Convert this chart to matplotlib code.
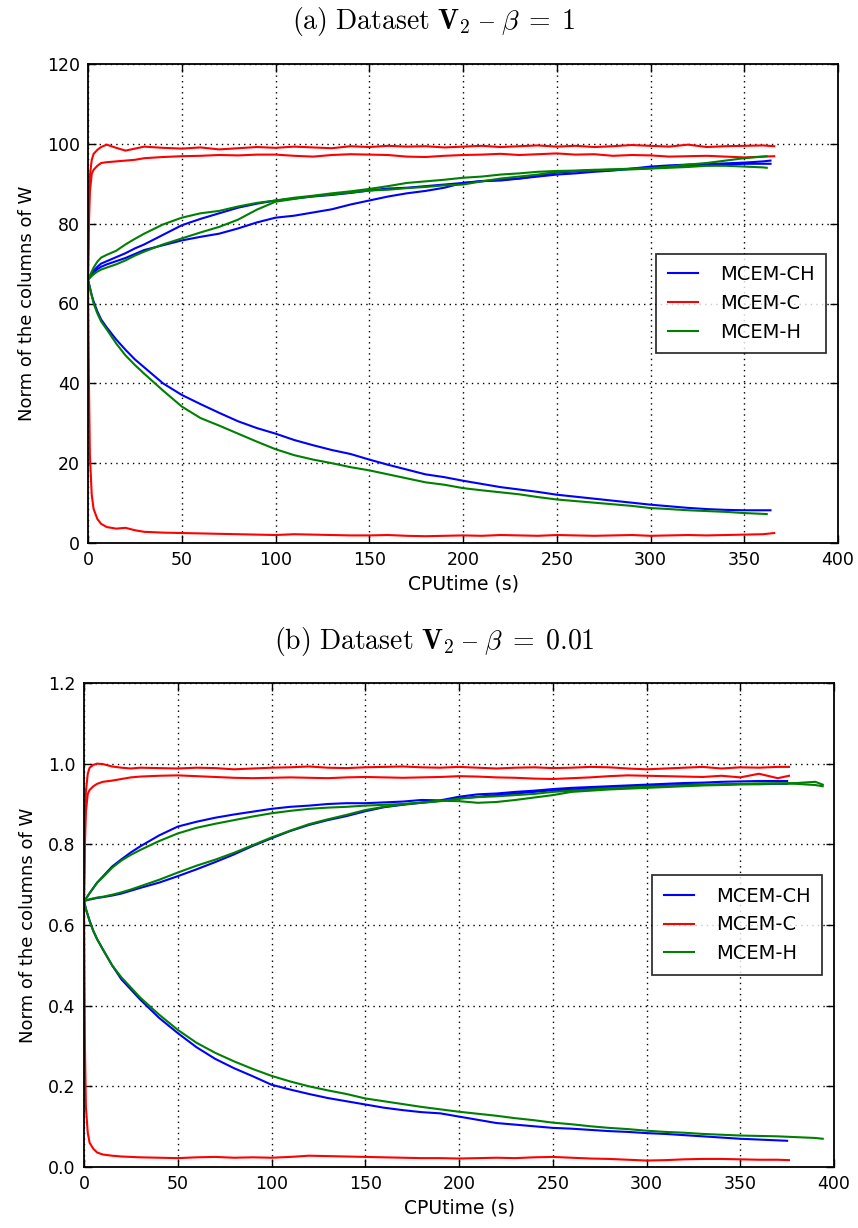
import matplotlib
matplotlib.use("Agg")
import matplotlib.pyplot as plt

plt.rcParams['mathtext.fontset'] = 'cm'
plt.rcParams['font.family'] = ['DejaVu Sans']

# ---------------- Panel (a): beta = 1 ----------------
t_grid_a = [0, 0.5, 1, 2, 3, 5, 7, 10, 15, 20, 25, 30, 40, 50, 60, 70, 80, 90, 100,
            110, 120, 130, 140, 150, 160, 170, 180, 190, 200, 210, 220, 230, 240, 250,
            260, 270, 280, 290, 300, 310, 320, 330, 340, 350, 360]
t_end_a_C = 366
t_end_a_CH = 364
t_end_a_H = 362

a_C_1 = [66, 85, 92, 96, 97.5, 98.5, 99.2, 99.8, 99.0, 98.3, 98.8, 99.3, 99.0, 98.8, 99.1,
         98.6, 98.9, 99.2, 99.0, 99.3, 99.1, 98.9, 99.4, 99.2, 99.5, 99.3, 99.4, 99.1, 99.3,
         99.5, 99.2, 99.4, 99.6, 99.3, 99.5, 99.2, 99.4, 99.7, 99.5, 99.3, 99.8, 99.2, 99.4,
         99.5, 99.6, 99.4]
a_C_2 = [66, 80, 88, 92.5, 93.5, 94.5, 95.2, 95.4, 95.6, 95.8, 96.0, 96.4, 96.7, 96.9, 97.0,
         97.2, 97.1, 97.3, 97.3, 97.0, 96.8, 97.2, 97.4, 97.3, 97.2, 96.8, 96.7, 97.0, 97.2,
         97.3, 97.5, 97.2, 97.4, 97.6, 97.3, 97.4, 97.0, 97.2, 97.1, 96.8, 96.9, 97.0, 96.8,
         96.6, 96.8, 96.9]
a_C_3 = [66, 40, 22, 12, 8.5, 6, 4.8, 4.0, 3.6, 3.8, 3.2, 2.8, 2.6, 2.5, 2.4, 2.3, 2.2, 2.1,
         2.0, 2.2, 2.1, 2.0, 1.9, 1.9, 2.0, 1.8, 1.7, 1.8, 1.9, 1.8, 2.0, 1.9, 1.8, 2.0, 1.9,
         1.8, 1.9, 2.0, 1.8, 1.9, 2.0, 1.9, 2.0, 2.1, 2.2, 2.5]

a_CH_1 = [66, 66.4, 66.8, 67.5, 68.2, 69.2, 70.0, 70.6, 71.6, 72.6, 73.8, 74.8, 77.2, 79.6,
          81.2, 82.6, 84.0, 85.0, 85.8, 86.3, 86.8, 87.2, 87.7, 88.3, 88.8, 89.0, 89.4, 89.8,
          90.2, 90.6, 91.0, 91.3, 91.8, 92.3, 92.6, 93.0, 93.3, 93.8, 94.3, 94.6, 94.8, 94.9,
          95.1, 95.3, 95.6, 95.8]
a_CH_2 = [66, 66.3, 66.6, 67.2, 67.8, 68.6, 69.2, 69.8, 70.6, 71.4, 72.4, 73.4, 74.6, 75.8,
          76.7, 77.5, 78.8, 80.3, 81.5, 82.0, 82.8, 83.6, 84.8, 85.8, 86.8, 87.6, 88.2, 89.0,
          90.2, 90.7, 90.8, 91.3, 92.0, 92.8, 93.1, 93.4, 93.5, 93.7, 94.0, 94.2, 94.5, 94.6,
          94.8, 95.0, 95.0, 95.0]
a_CH_3 = [66, 65, 64, 62, 60.5, 58, 56, 54, 51, 48.4, 46, 44, 40, 37.1, 34.8, 32.6, 30.5,
          28.8, 27.4, 25.8, 24.5, 23.3, 22.3, 20.9, 19.6, 18.4, 17.2, 16.5, 15.6, 14.8, 14.0,
          13.4, 12.8, 12.1, 11.6, 11.1, 10.6, 10.1, 9.6, 9.2, 8.8, 8.5, 8.3, 8.2, 8.2, 8.2]

a_H_1 = [66, 66.5, 67, 68, 69, 70.5, 71.5, 72.2, 73.2, 74.8, 76.2, 77.5, 79.8, 81.5, 82.6,
         83.2, 84.3, 85.2, 85.8, 86.5, 87.0, 87.6, 88.1, 88.7, 89.4, 90.2, 90.6, 91.0, 91.5,
         91.8, 92.3, 92.6, 93.0, 93.2, 93.3, 93.5, 93.6, 93.8, 93.9, 94.3, 94.8, 95.2, 95.8,
         96.4, 96.8, 96.9]
a_H_2 = [66, 66.2, 66.4, 66.9, 67.3, 68.0, 68.5, 69.0, 69.8, 70.8, 72.0, 73.0, 74.8, 76.3,
         77.8, 79.2, 81.0, 83.5, 85.5, 86.2, 86.9, 87.3, 87.8, 88.3, 88.5, 88.9, 89.2, 89.6,
         89.8, 90.6, 91.3, 91.8, 92.3, 93.0, 93.2, 93.4, 93.5, 93.6, 93.8, 94.0, 94.2, 94.5,
         94.5, 94.3, 94.1, 94.0]
a_H_3 = [66, 65, 64, 62, 60, 57.5, 55.5, 53.5, 50, 47, 44.6, 42.4, 38.2, 34.2, 31.3, 29.4,
         27.4, 25.4, 23.5, 22.0, 20.9, 20.0, 19.0, 18.2, 17.2, 16.2, 15.2, 14.6, 13.75, 13.2,
         12.7, 12.2, 11.5, 10.9, 10.5, 10.1, 9.7, 9.3, 8.75, 8.5, 8.2, 8.0, 7.8, 7.5, 7.3, 7.25]

# ---------------- Panel (b): beta = 0.01 ----------------
t_grid_b = [0, 0.5, 1, 2, 3, 5, 7, 10, 15, 20, 25, 30, 40, 50, 60, 70, 80, 90, 100,
            110, 120, 130, 140, 150, 160, 170, 180, 190, 200, 210, 220, 230, 240, 250,
            260, 270, 280, 290, 300, 310, 320, 330, 340, 350, 360, 370]
t_end_b_C = 376
t_end_b_CH = 375
t_tail_b_H = [380, 390, 394]

b_C_1 = [0.66, 0.85, 0.93, 0.975, 0.99, 0.997, 1.0, 0.999, 0.993, 0.990, 0.988, 0.990,
         0.989, 0.988, 0.990, 0.989, 0.986, 0.988, 0.990, 0.991, 0.993, 0.990, 0.989, 0.991,
         0.992, 0.993, 0.991, 0.990, 0.992, 0.990, 0.988, 0.990, 0.991, 0.989, 0.990, 0.992,
         0.991, 0.988, 0.986, 0.988, 0.990, 0.992, 0.988, 0.991, 0.990, 0.992, 0.992]
b_C_2 = [0.66, 0.80, 0.88, 0.925, 0.935, 0.944, 0.950, 0.955, 0.958, 0.962, 0.966, 0.968,
         0.970, 0.971, 0.969, 0.967, 0.965, 0.964, 0.965, 0.966, 0.965, 0.964, 0.966, 0.967,
         0.966, 0.965, 0.966, 0.967, 0.969, 0.968, 0.966, 0.965, 0.963, 0.962, 0.964, 0.966,
         0.969, 0.971, 0.970, 0.969, 0.968, 0.967, 0.970, 0.966, 0.975, 0.964, 0.970]
b_C_3 = [0.66, 0.30, 0.15, 0.085, 0.06, 0.045, 0.036, 0.031, 0.028, 0.026, 0.025, 0.024,
         0.023, 0.022, 0.024, 0.025, 0.023, 0.024, 0.023, 0.025, 0.028, 0.027, 0.026, 0.025,
         0.024, 0.023, 0.022, 0.022, 0.021, 0.022, 0.023, 0.022, 0.024, 0.025, 0.023, 0.021,
         0.020, 0.018, 0.016, 0.017, 0.019, 0.020, 0.020, 0.019, 0.018, 0.018, 0.017]

b_CH_1 = [0.66, 0.662, 0.665, 0.672, 0.679, 0.692, 0.705, 0.72, 0.745, 0.763, 0.780, 0.795,
          0.822, 0.844, 0.856, 0.866, 0.874, 0.881, 0.888, 0.893, 0.896, 0.900, 0.902, 0.902,
          0.904, 0.906, 0.910, 0.909, 0.918, 0.924, 0.926, 0.930, 0.933, 0.937, 0.940, 0.942,
          0.944, 0.946, 0.948, 0.950, 0.952, 0.953, 0.955, 0.956, 0.957, 0.957, 0.957]
b_CH_2 = [0.66, 0.66, 0.661, 0.662, 0.663, 0.665, 0.667, 0.669, 0.673, 0.678, 0.685, 0.692,
          0.705, 0.721, 0.738, 0.756, 0.775, 0.796, 0.815, 0.833, 0.848, 0.860, 0.870, 0.882,
          0.892, 0.898, 0.903, 0.908, 0.914, 0.918, 0.922, 0.926, 0.930, 0.934, 0.936, 0.939,
          0.941, 0.943, 0.945, 0.946, 0.947, 0.948, 0.948, 0.949, 0.949, 0.950, 0.950]
b_CH_3 = [0.66, 0.65, 0.64, 0.625, 0.61, 0.585, 0.565, 0.54, 0.50, 0.465, 0.44, 0.415, 0.37,
          0.332, 0.297, 0.268, 0.245, 0.225, 0.204, 0.192, 0.181, 0.171, 0.163, 0.155, 0.147,
          0.141, 0.136, 0.133, 0.125, 0.117, 0.109, 0.105, 0.101, 0.097, 0.095, 0.092, 0.089,
          0.087, 0.084, 0.082, 0.079, 0.076, 0.073, 0.070, 0.068, 0.066, 0.065]

b_H_1 = [0.66, 0.662, 0.665, 0.672, 0.679, 0.692, 0.705, 0.718, 0.742, 0.760, 0.774, 0.786,
         0.808, 0.827, 0.841, 0.851, 0.860, 0.869, 0.877, 0.883, 0.888, 0.891, 0.893, 0.896,
         0.898, 0.900, 0.903, 0.907, 0.913, 0.917, 0.919, 0.922, 0.925, 0.930, 0.933, 0.936,
         0.939, 0.941, 0.943, 0.944, 0.946, 0.947, 0.949, 0.950, 0.951, 0.951, 0.952, 0.955,
         0.948]
b_H_2 = [0.66, 0.66, 0.661, 0.662, 0.664, 0.666, 0.668, 0.670, 0.675, 0.681, 0.688, 0.696,
         0.712, 0.730, 0.747, 0.762, 0.779, 0.798, 0.817, 0.834, 0.850, 0.862, 0.873, 0.885,
         0.893, 0.899, 0.904, 0.908, 0.907, 0.903, 0.905, 0.910, 0.916, 0.922, 0.930, 0.933,
         0.936, 0.938, 0.940, 0.942, 0.944, 0.946, 0.947, 0.949, 0.950, 0.951, 0.950, 0.947,
         0.944]
b_H_3 = [0.66, 0.65, 0.64, 0.625, 0.61, 0.585, 0.565, 0.54, 0.50, 0.47, 0.445, 0.42, 0.378,
         0.34, 0.308, 0.283, 0.262, 0.243, 0.226, 0.212, 0.200, 0.190, 0.181, 0.170, 0.163,
         0.156, 0.149, 0.143, 0.137, 0.132, 0.127, 0.121, 0.116, 0.110, 0.106, 0.101, 0.097,
         0.094, 0.090, 0.087, 0.085, 0.082, 0.080, 0.078, 0.077, 0.076, 0.074, 0.072, 0.070]

method_labels = ['MCEM-CH', 'MCEM-C', 'MCEM-H']
method_colors = ['b', 'r', 'g']

panel_a = {
    'MCEM-CH': (t_grid_a + [t_end_a_CH], [a_CH_1, a_CH_2, a_CH_3]),
    'MCEM-C': (t_grid_a + [t_end_a_C], [a_C_1, a_C_2, a_C_3]),
    'MCEM-H': (t_grid_a + [t_end_a_H], [a_H_1, a_H_2, a_H_3]),
}
panel_b = {
    'MCEM-CH': (t_grid_b + [t_end_b_CH], [b_CH_1, b_CH_2, b_CH_3]),
    'MCEM-C': (t_grid_b + [t_end_b_C], [b_C_1, b_C_2, b_C_3]),
    'MCEM-H': (t_grid_b + t_tail_b_H, [b_H_1, b_H_2, b_H_3]),
}

W, H = 858, 1228
fig = plt.figure(figsize=(W / 100, H / 100), dpi=100, facecolor='white')


def px_axes(l, t, r, b):
    return fig.add_axes([l / W, 1 - b / H, (r - l) / W, (b - t) / H])


def style_axes(ax, ylim, yticks, yfmt):
    ax.set_xlim(0, 400)
    ax.set_ylim(*ylim)
    ax.set_xticks(range(0, 401, 50))
    ax.set_yticks(yticks)
    ax.set_yticklabels([yfmt.format(v) for v in yticks])
    ax.grid(True, color='black', linestyle=(0, (1, 3)), linewidth=1.0)
    ax.tick_params(direction='in', top=True, right=True, length=6, width=1,
                   labelsize=12.5, pad=6)
    for s in ax.spines.values():
        s.set_linewidth(1.3)
    ax.set_xlabel('CPUtime (s)', fontsize=13.5, labelpad=4)
    ax.set_ylabel('Norm of the columns of W', fontsize=13, labelpad=8)


def draw(ax, panel):
    for lab, col in zip(method_labels, method_colors):
        tt, series = panel[lab]
        for i, ys in enumerate(series):
            ax.plot(tt, ys, color=col, linewidth=1.5, label=lab if i == 0 else None)
    leg = ax.legend(loc='center right', fontsize=14, frameon=True, fancybox=False,
                    edgecolor='black', handlelength=1.55, handletextpad=1.15,
                    borderpad=0.6, labelspacing=0.5, borderaxespad=0.6)
    leg.get_frame().set_linewidth(1.3)


ax1 = px_axes(88, 64, 838, 543)
draw(ax1, panel_a)
style_axes(ax1, (0, 120), [0, 20, 40, 60, 80, 100, 120], '{:d}')

ax2 = px_axes(84, 683, 834, 1167)
draw(ax2, panel_b)
style_axes(ax2, (0, 1.2), [0.0, 0.2, 0.4, 0.6, 0.8, 1.0, 1.2], '{:.1f}')

fig.text(434 / W, 1 - 22 / H,
         r'$\mathrm{(a)\ Dataset\ }\mathbf{V}_2\ \mathrm{–}\ \beta\;=\;1$',
         ha='center', va='center', fontsize=20)
fig.text(434 / W, 1 - 641 / H,
         r'$\mathrm{(b)\ Dataset\ }\mathbf{V}_2\ \mathrm{–}\ \beta\;=\;0.01$',
         ha='center', va='center', fontsize=20)

fig.savefig('out.png', dpi=100, facecolor='white')
